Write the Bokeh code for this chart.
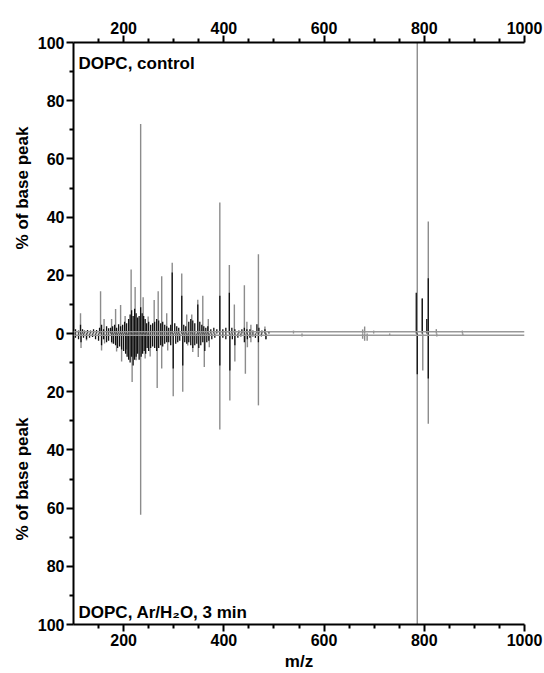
import math
from bokeh.plotting import figure
from bokeh.models import Range1d, FixedTicker, Span, Label, ColumnDataSource, LinearAxis
from bokeh.layouts import row
from bokeh.core.properties import value
from bokeh.embed import file_html
from bokeh.resources import INLINE

# ---------------- data ----------------
# DOPC, control (upper spectrum): tall / isolated peaks (grey)
ctrl_grey_mz = [114, 154, 161, 176, 184, 194, 203, 215, 223, 234, 239, 249, 261, 269,
                276, 286, 297, 316, 326, 336, 348, 358, 369, 392, 411, 421, 441, 446,
                454, 469, 482, 539, 677, 681, 699, 786, 796, 808, 824, 876]
ctrl_grey_int = [7, 14.5, 5, 5, 8.4, 9.8, 6, 22, 16, 72, 12.5, 5.8, 11.5, 14.5,
                 19.7, 7, 24.3, 20.6, 6.5, 6.5, 11.6, 13, 5, 45, 23.5, 10, 16.6, 4,
                 3, 27.2, 2.4, 1, 1.4, 2.4, 1, 100, 12, 38.5, 1.5, 1]
# DOPC, control: dense dark peaks
ctrl_black_mz = [104, 110, 114, 118, 122, 128, 134, 140, 146, 152, 156, 160, 166, 170,
                 174, 178, 182, 186, 190, 194, 198, 202, 206, 210, 213, 216, 219, 222,
                 225, 228, 231, 234, 237, 240, 243, 246, 250, 254, 258, 262, 266, 270,
                 274, 278, 282, 286, 290, 294, 297, 302, 306, 310, 316, 320, 324, 330,
                 334, 338, 342, 348, 352, 356, 360, 364, 368, 374, 380, 386, 392, 398,
                 404, 411, 416, 422, 430, 436, 441, 446, 452, 458, 466, 470, 476, 482,
                 490, 784, 796, 805, 808]
ctrl_black_int = [1.5, 1, 3, 1.5, 1, 1.2, 1, 1.5, 1.2, 2, 3, 1.5, 2.5, 1.8,
                  2, 2.5, 3, 2, 3.2, 2.5, 3, 4, 3.5, 5, 6.5, 8, 6, 8.5,
                  7, 5.5, 6, 9, 7, 6, 5, 3.5, 4, 3, 3.5, 4, 5, 4.5,
                  3.5, 4, 3, 2.5, 2, 3, 21, 3.5, 2.5, 2, 13, 3, 2.5, 4,
                  5, 4.5, 3.5, 10, 4, 3, 2.5, 2, 2.5, 1.5, 2, 1.5, 13, 1.5,
                  2, 14, 2, 1.5, 1, 1.5, 2, 1.5, 1.5, 1, 3.2, 2, 1, 1.5,
                  0.8, 14, 12, 5, 19]

# DOPC, Ar/H2O, 3 min (lower, mirrored spectrum): tall / isolated peaks (grey)
trt_grey_mz = [115, 126, 156, 162, 177, 186, 196, 206, 217, 225, 234, 243, 253, 267,
               276, 288, 299, 318, 328, 338, 349, 361, 371, 392, 412, 422, 443, 447,
               454, 469, 484, 556, 677, 681, 686, 731, 786, 797, 808, 825, 877]
trt_grey_int = [5, 2.4, 5.8, 3.4, 3.4, 6.2, 9.6, 5.5, 16.7, 9.2, 62.3, 8.6, 7.9, 18.7,
                12, 5.8, 21.6, 20, 4.1, 6.4, 8.1, 11.5, 4.7, 33, 23, 9.6, 13.8, 4.7,
                3, 24.7, 2, 1, 1.8, 2.5, 2.5, 0.7, 100, 12.7, 31, 1, 0.7]
# DOPC, Ar/H2O, 3 min: dense dark peaks
trt_black_mz = [104, 110, 115, 120, 126, 132, 138, 144, 150, 156, 160, 166, 170, 176,
                180, 184, 188, 192, 196, 200, 204, 207, 210, 213, 216, 219, 222, 225,
                228, 231, 235, 238, 241, 244, 247, 250, 254, 258, 262, 266, 270, 274,
                278, 282, 286, 290, 294, 299, 304, 308, 312, 318, 322, 326, 330, 334,
                338, 342, 346, 350, 354, 358, 362, 366, 370, 376, 382, 392, 398, 404,
                412, 417, 422, 428, 434, 441, 447, 452, 458, 463, 469, 475, 484, 786,
                808]
trt_black_int = [1.5, 2, 3, 1.5, 2, 1.5, 1.2, 2, 2.5, 4, 2, 3, 2.5, 3,
                 3.5, 4, 5, 4.5, 5.5, 6, 7, 8, 9, 10, 8, 11, 9, 8,
                 7, 9, 8, 7, 6, 7, 5, 6, 5, 4.5, 5, 6, 5, 4,
                 4.5, 3.5, 3, 3, 4, 12, 3.5, 3, 2.5, 11, 3, 3.5, 3, 4,
                 5, 4, 3.5, 5, 4, 3, 6, 3, 2.5, 2, 1.5, 11, 1.5, 2,
                 12.7, 2, 4, 1.5, 1, 3, 2, 1.5, 1, 1.5, 3, 1, 2, 14,
                 15.5]

x_major = [200, 400, 600, 800, 1000]
x_minor = [150, 250, 300, 350, 450, 500, 550, 650, 700, 750, 850, 900, 950]
y_major = [0, 20, 40, 60, 80, 100]
y_minor = [10, 30, 50, 70, 90]
y_title = "% of base peak"

FONT = "Liberation Sans"
GREY = "#8c8c8c"
BLACK = "#111111"
TOP, BOTTOM = 42, 48
H = 673
LAB_W = 34

yr = Range1d(-100, 100)

# ---- narrow figure holding the two rotated y-axis titles ----
lab = figure(width=LAB_W, height=H, x_range=Range1d(0, 1), y_range=yr,
             output_backend="svg", toolbar_location=None,
             min_border_left=0, min_border_right=0,
             min_border_top=TOP, min_border_bottom=BOTTOM)
lab.axis.visible = False
lab.grid.visible = False
lab.outline_line_color = None
lab.text(x=[0.64, 0.64], y=[50, -50], text=[y_title, y_title],
         angle=math.pi / 2, text_align="center", text_baseline="middle",
         text_font=value(FONT), text_font_style="bold",
         text_font_size="17px", text_color="black")

# ---- main spectrum figure ----
p = figure(width=544 - LAB_W, height=H, x_range=Range1d(100, 1000),
           y_range=yr, x_axis_location="below",
           output_backend="svg", toolbar_location=None,
           min_border_left=72 - LAB_W, min_border_right=20,
           min_border_top=TOP, min_border_bottom=BOTTOM)
p.outline_line_color = None
p.xgrid.visible = False
p.ygrid.visible = False


def add_spectrum(mz, val, sign, color, lw):
    src = ColumnDataSource(dict(mz=mz, base=[0] * len(mz),
                                val=[sign * v for v in val]))
    p.segment(x0="mz", y0="base", x1="mz", y1="val", source=src,
              line_color=color, line_width=lw)


add_spectrum(ctrl_grey_mz, ctrl_grey_int, 1, GREY, 1.4)
add_spectrum(trt_grey_mz, trt_grey_int, -1, GREY, 1.4)
add_spectrum(ctrl_black_mz, ctrl_black_int, 1, BLACK, 1.3)
add_spectrum(trt_black_mz, trt_black_int, -1, BLACK, 1.3)

# two baselines (upper and lower spectrum)
p.add_layout(Span(location=0.6, dimension="width", line_color="#999999", line_width=1.5))
p.add_layout(Span(location=-0.6, dimension="width", line_color="#999999", line_width=1.5))

bottom_axis = p.below[0]
left_axis = p.left[0]
top_axis = LinearAxis()
p.add_layout(top_axis, "above")

y_ticks = sorted(set([-t for t in y_major] + y_major))
y_minor_all = sorted([-t for t in y_minor] + y_minor)
overrides = {t: str(abs(t)) for t in y_ticks}

for ax in (bottom_axis, top_axis):
    ax.ticker = FixedTicker(ticks=x_major, minor_ticks=x_minor)
left_axis.ticker = FixedTicker(ticks=y_ticks, minor_ticks=y_minor_all)
left_axis.major_label_overrides = overrides
bottom_axis.axis_label = "m/z"

for ax in (bottom_axis, top_axis, left_axis):
    ax.axis_line_color = "black"
    ax.axis_line_width = 2
    ax.major_tick_line_color = "black"
    ax.major_tick_line_width = 2
    ax.minor_tick_line_color = "black"
    ax.minor_tick_line_width = 2
    ax.major_tick_in = 0
    ax.major_tick_out = 7
    ax.minor_tick_in = 0
    ax.minor_tick_out = 4
    ax.major_label_text_font = FONT
    ax.major_label_text_font_style = "bold"
    ax.major_label_text_font_size = "16px"
    ax.major_label_text_color = "black"
    ax.major_label_standoff = 2
    ax.axis_label_text_font = FONT
    ax.axis_label_text_font_style = "bold"
    ax.axis_label_text_font_size = "17px"
    ax.axis_label_text_color = "black"
bottom_axis.axis_label_standoff = 3

# panel captions
p.add_layout(Label(x=110, y=92.8, text="DOPC, control", text_font=FONT,
                   text_font_style="bold", text_font_size="17px",
                   text_color="black", text_baseline="alphabetic"))
p.add_layout(Label(x=110, y=-95.8, text="DOPC, Ar/H\u2082O, 3 min", text_font=FONT,
                   text_font_style="bold", text_font_size="17px",
                   text_color="black", text_baseline="alphabetic"))

layout = row(lab, p, spacing=0)
open("out.html", "w").write(file_html(layout, INLINE))
